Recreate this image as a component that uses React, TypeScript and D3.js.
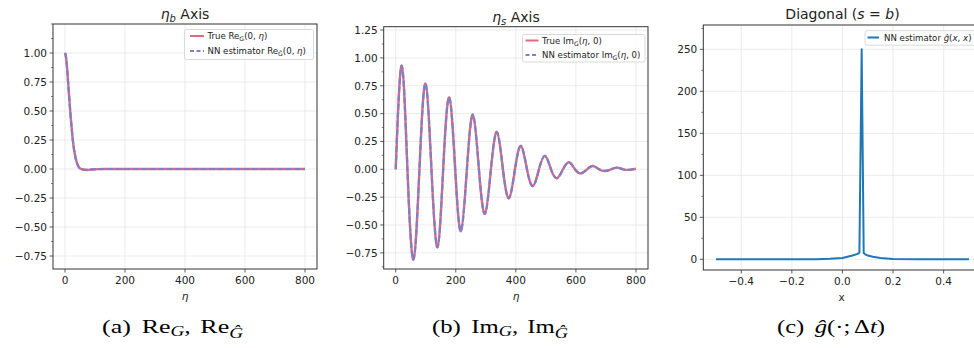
import React from 'react';
import * as d3 from 'd3';

// ---------- data ----------
const etaB = [0, 3, 6, 10, 14, 18, 22, 26, 30, 35, 40, 45, 50, 55, 65, 75, 90, 110, 130, 200, 300, 400, 500, 600, 700, 800];
const reTrue = [1.0, 0.97, 0.9, 0.76, 0.62, 0.48, 0.36, 0.25, 0.17, 0.1, 0.05, 0.02, 0.005, -0.002, -0.007, -0.008, -0.004, -0.001, 0, 0, 0, 0, 0, 0, 0, 0];
const reNN = [1.0, 0.97, 0.9, 0.76, 0.62, 0.48, 0.36, 0.25, 0.17, 0.1, 0.05, 0.02, 0.005, -0.002, -0.007, -0.008, -0.004, -0.001, 0, 0, 0, 0, 0, 0, 0, 0];

const etaS = [0, 20, 39, 59, 79, 99, 119, 139, 158, 178, 198, 217, 237, 257, 277, 297, 317, 337, 357, 377, 397, 417, 437, 457, 477, 497, 517, 537, 557, 577, 597, 617, 637, 657, 677, 697, 717, 737, 757, 777, 800];
const imTrue = [0, 0.93, 0, -0.81, 0, 0.77, 0, -0.7, 0, 0.645, 0, -0.555, 0, 0.49, 0, -0.4, 0, 0.335, 0, -0.26, 0, 0.21, 0, -0.15, 0, 0.12, 0, -0.08, 0, 0.063, 0, -0.037, 0, 0.03, 0, -0.015, 0, 0.015, 0, -0.005, 0.005];
const imNN = [0, 0.93, 0, -0.81, 0, 0.77, 0, -0.7, 0, 0.645, 0, -0.555, 0, 0.49, 0, -0.4, 0, 0.335, 0, -0.26, 0, 0.21, 0, -0.15, 0, 0.12, 0, -0.08, 0, 0.063, 0, -0.037, 0, 0.03, 0, -0.015, 0, 0.015, 0, -0.005, 0.005];

const diagX = [-0.5, -0.4, -0.3, -0.2, -0.1, -0.05, 0, 0.02, 0.04, 0.06, 0.067, 0.076, 0.084, 0.09, 0.1, 0.12, 0.15, 0.2, 0.3, 0.4, 0.5];
const diagG = [0, 0, 0, 0, 0.2, 0.6, 1.5, 3, 4.5, 6.5, 8, 250, 7.5, 6, 4.5, 3, 1.5, 0.3, 0, 0, 0];

const ticksA_X = [0, 200, 400, 600, 800];
const ticksA_Y = [-0.75, -0.5, -0.25, 0, 0.25, 0.5, 0.75, 1.0];
const ticksB_Y = [-0.75, -0.5, -0.25, 0, 0.25, 0.5, 0.75, 1.0, 1.25];
const ticksC_X = [-0.4, -0.2, 0, 0.2, 0.4];
const ticksC_Y = [0, 50, 100, 150, 200, 250];

// ---------- style ----------
const PINK = '#e0697f';
const PURPLE = '#7e7fc6';
const BLUE = '#1f77b4';
const SANS = 'DejaVu Sans, sans-serif';
const SERIF = 'Liberation Serif, DejaVu Serif, serif';
const TICK_FS = 10.5;
const DASH = '6,2.5';

const minus = (s: string) => s.replace('-', '\u2212');

type PanelProps = {
  id: string;
  left: number; right: number; top: number; bottom: number;
  xDomain: [number, number]; yDomain: [number, number];
  xTicks: number[]; yTicks: number[]; yMinorStep: number;
  fmtX: (v: number) => string; fmtY: (v: number) => string;
  render: (x: d3.ScaleLinear<number, number>, y: d3.ScaleLinear<number, number>) => React.ReactNode;
};

function Panel(p: PanelProps) {
  const x = d3.scaleLinear().domain(p.xDomain).range([p.left, p.right]);
  const y = d3.scaleLinear().domain(p.yDomain).range([p.bottom, p.top]);
  const minors: number[] = [];
  const st = p.yMinorStep;
  for (let v = Math.ceil(p.yDomain[0] / st) * st; v <= p.yDomain[1] + 1e-9; v += st) {
    if (!p.yTicks.some(t => Math.abs(t - v) < 1e-9)) minors.push(v);
  }
  const visRight = Math.min(p.right, 974);
  return (
    <g>
      <defs>
        <clipPath id={p.id}>
          <rect x={p.left} y={p.top} width={p.right - p.left} height={p.bottom - p.top} />
        </clipPath>
      </defs>
      <rect x={p.left} y={p.top} width={p.right - p.left} height={p.bottom - p.top} fill="#fff" />
      {p.xTicks.map(t => (
        <line key={'gx' + t} x1={x(t)} x2={x(t)} y1={p.top} y2={p.bottom} stroke="#e6e6e6" strokeWidth={0.8} />
      ))}
      {p.yTicks.map(t => (
        <line key={'gy' + t} x1={p.left} x2={visRight} y1={y(t)} y2={y(t)} stroke="#e6e6e6" strokeWidth={0.8} />
      ))}
      <g clipPath={`url(#${p.id})`}>{p.render(x, y)}</g>
      <rect x={p.left} y={p.top} width={p.right - p.left} height={p.bottom - p.top} fill="none" stroke="#333" strokeWidth={1} />
      {p.xTicks.map(t => (
        <g key={'tx' + t}>
          <line x1={x(t)} x2={x(t)} y1={p.bottom} y2={p.bottom + 3.5} stroke="#333" strokeWidth={0.8} />
          <text x={x(t)} y={p.bottom + 15} textAnchor="middle" fontFamily={SANS} fontSize={TICK_FS} fill="#222">{p.fmtX(t)}</text>
        </g>
      ))}
      {p.yTicks.map(t => (
        <g key={'ty' + t}>
          <line x1={p.left - 3.5} x2={p.left} y1={y(t)} y2={y(t)} stroke="#333" strokeWidth={0.8} />
          <text x={p.left - 6} y={y(t) + 3.8} textAnchor="end" fontFamily={SANS} fontSize={TICK_FS} fill="#222">{p.fmtY(t)}</text>
        </g>
      ))}
      {minors.map(t => (
        <line key={'my' + t} x1={p.left - 2} x2={p.left} y1={y(t)} y2={y(t)} stroke="#333" strokeWidth={0.6} />
      ))}
    </g>
  );
}

function Sub({ children }: { children: React.ReactNode }) {
  return <tspan fontSize="0.72em" dy={2}>{children}</tspan>;
}

export default function App() {
  const fmt2 = (v: number) => minus(v.toFixed(2));
  const fmt1 = (v: number) => minus(v.toFixed(1));
  const fmt0 = (v: number) => minus(v.toFixed(0));
  const LFS = 8.6;

  return (
    <svg width={974} height={348} style={{ position: 'absolute', left: 0, top: 0, background: '#fff' }}>
      <rect width={974} height={348} fill="#fff" />

      {/* Panel (a) */}
      <Panel
        id="clipA" left={53} right={317} top={24} bottom={269}
        xDomain={[-40, 840]} yDomain={[-0.862, 1.25]}
        xTicks={ticksA_X} yTicks={ticksA_Y} yMinorStep={0.125}
        fmtX={fmt0} fmtY={fmt2}
        render={(x, y) => {
          const line = d3.line<number>().x((_, i) => x(etaB[i])).y(d => y(d)).curve(d3.curveMonotoneX);
          return (
            <>
              <path d={line(reTrue) || ''} fill="none" stroke={PINK} strokeWidth={2.4} />
              <path d={line(reNN) || ''} fill="none" stroke={PURPLE} strokeWidth={2.2} strokeDasharray={DASH} />
            </>
          );
        }}
      />
      <text x={185} y={19} textAnchor="middle" fontFamily={SANS} fontSize={14} fill="#222">
        <tspan fontStyle="italic">η</tspan><tspan fontStyle="italic" fontSize={10} dy={3}>b</tspan><tspan dy={-3}> Axis</tspan>
      </text>
      <text x={185} y={300} textAnchor="middle" fontFamily={SANS} fontStyle="italic" fontSize={10.5} fill="#222">η</text>
      <g>
        <rect x={184.5} y={29.5} width={129} height={30} rx={2} fill="#fff" fillOpacity={0.85} stroke="#d0d0d0" strokeWidth={0.8} />
        <line x1={190} x2={204} y1={36} y2={36} stroke={PINK} strokeWidth={2} />
        <text x={207.5} y={39} fontFamily={SANS} fontSize={LFS} fill="#222">True Re<Sub>G</Sub><tspan dy={-2}>(0, </tspan><tspan fontStyle="italic">η</tspan>)</text>
        <line x1={190} x2={204} y1={51} y2={51} stroke={PURPLE} strokeWidth={2} strokeDasharray="4,2.5" />
        <text x={207.5} y={54} fontFamily={SANS} fontSize={LFS} fill="#222">NN estimator Re<Sub>Ĝ</Sub><tspan dy={-2}>(0, </tspan><tspan fontStyle="italic">η</tspan>)</text>
      </g>

      {/* Panel (b) */}
      <Panel
        id="clipB" left={383.7} right={648} top={26.7} bottom={269}
        xDomain={[-40, 840]} yDomain={[-0.895, 1.28]}
        xTicks={ticksA_X} yTicks={ticksB_Y} yMinorStep={0.125}
        fmtX={fmt0} fmtY={fmt2}
        render={(x, y) => {
          const line = d3.line<number>().x((_, i) => x(etaS[i])).y(d => y(d)).curve(d3.curveNatural);
          return (
            <>
              <path d={line(imTrue) || ''} fill="none" stroke={PINK} strokeWidth={2.4} />
              <path d={line(imNN) || ''} fill="none" stroke={PURPLE} strokeWidth={2.2} strokeDasharray={DASH} />
            </>
          );
        }}
      />
      <text x={516} y={22} textAnchor="middle" fontFamily={SANS} fontSize={14} fill="#222">
        <tspan fontStyle="italic">η</tspan><tspan fontStyle="italic" fontSize={10} dy={3}>s</tspan><tspan dy={-3}> Axis</tspan>
      </text>
      <text x={516} y={300} textAnchor="middle" fontFamily={SANS} fontStyle="italic" fontSize={10.5} fill="#222">η</text>
      <g>
        <rect x={522.5} y={34.5} width={122.5} height={27.5} rx={2} fill="#fff" fillOpacity={0.85} stroke="#d0d0d0" strokeWidth={0.8} />
        <line x1={525.5} x2={538.5} y1={40.5} y2={40.5} stroke={PINK} strokeWidth={2} />
        <text x={542} y={43.5} fontFamily={SANS} fontSize={LFS} fill="#222">True Im<Sub>G</Sub><tspan dy={-2}>(</tspan><tspan fontStyle="italic">η</tspan>, 0)</text>
        <line x1={525.5} x2={538.5} y1={55} y2={55} stroke={PURPLE} strokeWidth={2} strokeDasharray="4,2.5" />
        <text x={542} y={58} fontFamily={SANS} fontSize={LFS} fill="#222">NN estimator Im<Sub>G</Sub><tspan dy={-2}>(</tspan><tspan fontStyle="italic">η</tspan>, 0)</text>
      </g>

      {/* Panel (c) */}
      <Panel
        id="clipC" left={703.3} right={981.6} top={25} bottom={270}
        xDomain={[-0.55, 0.55]} yDomain={[-12.7, 279]}
        xTicks={ticksC_X} yTicks={ticksC_Y} yMinorStep={25}
        fmtX={fmt1} fmtY={fmt0}
        render={(x, y) => {
          const line = d3.line<number>().x((_, i) => x(diagX[i])).y(d => y(d));
          return <path d={line(diagG) || ''} fill="none" stroke={BLUE} strokeWidth={2} strokeLinejoin="round" />;
        }}
      />
      <text x={842.5} y={19} textAnchor="middle" fontFamily={SANS} fontSize={14} fill="#222">
        Diagonal (<tspan fontStyle="italic">s</tspan> = <tspan fontStyle="italic">b</tspan>)
      </text>
      <text x={841.5} y={301} textAnchor="middle" fontFamily={SANS} fontSize={10.5} fill="#222">x</text>
      <g>
        <rect x={865} y={30.7} width={120} height={14.5} rx={2} fill="#fff" fillOpacity={0.85} stroke="#d0d0d0" strokeWidth={0.8} />
        <line x1={867.5} x2={879} y1={37.5} y2={37.5} stroke={BLUE} strokeWidth={2} />
        <text x={884} y={40.5} fontFamily={SANS} fontSize={LFS} fill="#222">NN estimator <tspan fontStyle="italic">ĝ</tspan>(<tspan fontStyle="italic">x</tspan>, <tspan fontStyle="italic">x</tspan>)</text>
      </g>

      {/* Captions */}
      <text x={102} y={333} fontFamily={SERIF} fontSize={19} fill="#000" textLength={141} lengthAdjust="spacingAndGlyphs">
        (a)<tspan dx={8}>Re</tspan><tspan fontSize={14} dy={3} fontStyle="italic">G</tspan><tspan dy={-3}>,</tspan><tspan dx={7}>Re</tspan><tspan fontSize={14} dy={5} fontStyle="italic">Ĝ</tspan>
      </text>
      <text x={432} y={333} fontFamily={SERIF} fontSize={19} fill="#000" textLength={136} lengthAdjust="spacingAndGlyphs">
        (b)<tspan dx={8}>Im</tspan><tspan fontSize={14} dy={3} fontStyle="italic">G</tspan><tspan dy={-3}>,</tspan><tspan dx={7}>Im</tspan><tspan fontSize={14} dy={5} fontStyle="italic">Ĝ</tspan>
      </text>
      <text x={777} y={333} fontFamily={SERIF} fontSize={19} fill="#000" textLength={108} lengthAdjust="spacingAndGlyphs">
        (c)<tspan dx={8} fontStyle="italic">ĝ</tspan>(·;<tspan dx={3}>Δ</tspan><tspan fontStyle="italic">t</tspan>)
      </text>
    </svg>
  );
}
